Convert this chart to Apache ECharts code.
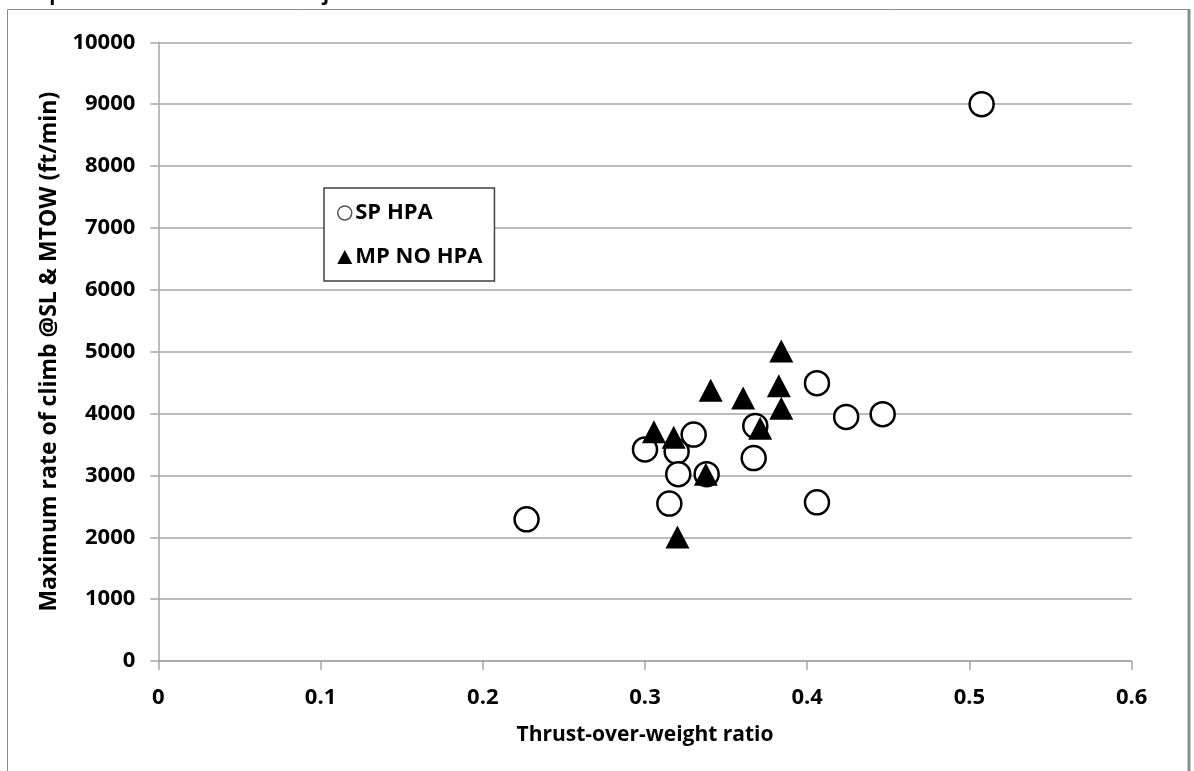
<!DOCTYPE html>
<html>
<head>
<meta charset="utf-8">
<script src="https://cdn.jsdelivr.net/npm/echarts@6/dist/echarts.min.js"></script>
<style>
html,body{margin:0;padding:0;background:#fff;}
#chart{width:1194px;height:771px;}
</style>
</head>
<body>
<div id="chart"></div>
<script>
// ---- data ----
const captionText = "compared to non-HPA business jet aircraft";
const xAxisTitle = "Thrust-over-weight ratio";
const yAxisTitle = "Maximum rate of climb @SL & MTOW (ft/min)";
const seriesNames = ["SP HPA", "MP NO HPA"];

// SP HPA (open circles): [thrust/weight, climb rate ft/min]
const spHpaT2W   = [0.227, 0.300, 0.3195, 0.330, 0.3205, 0.315, 0.338, 0.368, 0.367, 0.406, 0.406, 0.424, 0.4465, 0.5075];
const spHpaClimb = [2290, 3420, 3385, 3660, 3020, 2545, 3020, 3800, 3280, 4490, 2565, 3945, 3990, 9000];

// MP NO HPA (filled triangles)
const mpNoT2W   = [0.384, 0.3825, 0.384, 0.3405, 0.3605, 0.3055, 0.3177, 0.371, 0.3375, 0.320];
const mpNoClimb = [5010, 4450, 4085, 4375, 4250, 3705, 3615, 3760, 3020, 2005];

const xTicks = {min: 0, max: 0.6, interval: 0.1};
const yTicks = {min: 0, max: 10000, interval: 1000};

// ---- chart ----
const zip = (a, b) => a.map((v, i) => [v, b[i]]);
const FONT = 'Open Sans';
const chart = echarts.init(document.getElementById('chart'), null, {renderer: 'canvas'});
chart.setOption({
  backgroundColor: '#fff',
  animation: false,
  graphic: [
    {type: 'rect', shape: {x: 7.5, y: 9.5, width: 1181, height: 800},
     style: {fill: 'none', stroke: '#8c8c8c', lineWidth: 1}, z: 0, silent: true},
    {type: 'line', shape: {x1: 1189, y1: 9, x2: 1189, y2: 771},
     style: {stroke: '#8c8c8c', lineWidth: 3}, z: 0, silent: true},
    {type: 'text', x: 7, y: 4,
     style: {text: captionText, fill: '#000', font: 'bold 20px "Open Sans"', verticalAlign: 'bottom', align: 'left'},
     z: 1, silent: true}
  ],
  grid: {left: 158.3, right: 62.3, top: 42.3, bottom: 110, containLabel: false},
  legend: {
    orient: 'vertical',
    left: 324, top: 188,
    padding: [14, 12, 13, 13],
    itemGap: 22,
    itemWidth: 15, itemHeight: 14,
    backgroundColor: '#fff',
    borderColor: '#404040', borderWidth: 1.5,
    textStyle: {fontFamily: FONT, fontWeight: 'bold', fontSize: 22, color: '#000', padding: [0, 0, 0, -2]},
    data: [
      {name: seriesNames[0], icon: 'circle', itemStyle: {color: '#fff', borderColor: '#555', borderWidth: 1.5}},
      {name: seriesNames[1], icon: 'triangle', itemStyle: {color: '#000', borderWidth: 0}}
    ]
  },
  xAxis: {
    type: 'value',
    min: xTicks.min, max: xTicks.max, interval: xTicks.interval,
    name: xAxisTitle, nameLocation: 'middle', nameGap: 64,
    nameTextStyle: {fontFamily: FONT, fontWeight: 'bold', fontSize: 21, color: '#000'},
    axisLine: {show: true, lineStyle: {color: '#a6a6a6', width: 1.5}},
    axisTick: {show: true, length: 9, lineStyle: {color: '#a6a6a6', width: 1.5}},
    axisLabel: {margin: 26, fontFamily: FONT, fontWeight: 'bold', fontSize: 22, color: '#000'},
    splitLine: {show: false}
  },
  yAxis: {
    type: 'value',
    min: yTicks.min, max: yTicks.max, interval: yTicks.interval,
    name: yAxisTitle, nameLocation: 'middle', nameGap: 97, nameRotate: 90,
    nameTextStyle: {fontFamily: FONT, fontWeight: 'bold', fontSize: 23, color: '#000'},
    axisLine: {show: true, lineStyle: {color: '#a6a6a6', width: 1.5}},
    axisTick: {show: true, length: 8, lineStyle: {color: '#a6a6a6', width: 1.5}},
    axisLabel: {margin: 23, fontFamily: FONT, fontWeight: 'bold', fontSize: 22, color: '#000',
                formatter: v => String(v)},
    splitLine: {show: true, lineStyle: {color: '#a6a6a6', width: 1.5}}
  },
  series: [
    {
      name: seriesNames[0], type: 'scatter', symbol: 'circle', symbolSize: 24,
      itemStyle: {color: '#fff', borderColor: '#000', borderWidth: 2.5, opacity: 1},
      data: zip(spHpaT2W, spHpaClimb), z: 2
    },
    {
      name: seriesNames[1], type: 'scatter', symbol: 'triangle', symbolSize: [24, 23],
      itemStyle: {color: '#000', opacity: 1},
      data: zip(mpNoT2W, mpNoClimb), z: 3
    }
  ]
});
</script>
</body>
</html>
